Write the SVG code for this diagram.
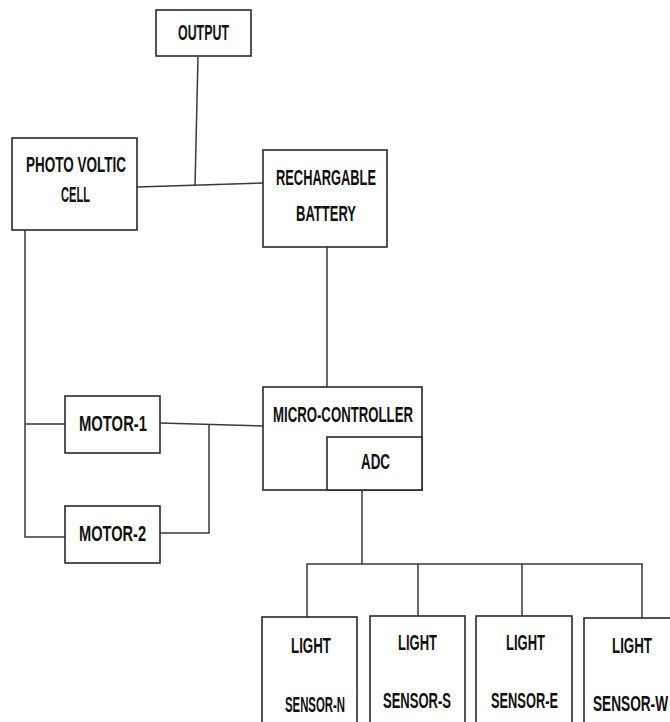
<svg xmlns="http://www.w3.org/2000/svg" width="670" height="722" viewBox="0 0 670 722">
<style>
.box{fill:#fff;stroke:#2a2a2a;stroke-width:1.6}
.ln{fill:none;stroke:#3a3a3a;stroke-width:1.5}
text{font-family:"Liberation Sans",Arial,sans-serif;font-weight:bold;font-size:22px;fill:#111}
</style>
<rect width="670" height="722" fill="#fff"/>
<g id="connectors">
<polyline class="ln" points="198,57 195,186"/>
<polyline class="ln" points="137,187 263,183"/>
<polyline class="ln" points="327,247 327,387"/>
<polyline class="ln" points="25,230 25,537 65,537"/>
<polyline class="ln" points="25,424 65,424"/>
<polyline class="ln" points="160,423 263,426"/>
<polyline class="ln" points="209,424 209,533 160,533"/>
<polyline class="ln" points="362,490 362,564"/>
<polyline class="ln" points="307,617 307,564 642,564 642,618"/>
<polyline class="ln" points="418,564 418,616"/>
<polyline class="ln" points="522,564 522,616"/>
</g>
<g id="output"><rect class="box" x="156" y="10" width="95" height="46"/><text x="178" y="40" textLength="51" lengthAdjust="spacingAndGlyphs">OUTPUT</text></g>
<g id="pv"><rect class="box" x="12" y="138" width="125" height="92"/><text x="26" y="172" textLength="100" lengthAdjust="spacingAndGlyphs">PHOTO VOLTIC</text><text x="61" y="202" textLength="29" lengthAdjust="spacingAndGlyphs">CELL</text></g>
<g id="battery"><rect class="box" x="263" y="150" width="124" height="97"/><text x="276" y="185" textLength="100" lengthAdjust="spacingAndGlyphs">RECHARGABLE</text><text x="296" y="221" textLength="60" lengthAdjust="spacingAndGlyphs">BATTERY</text></g>
<g id="motor1"><rect class="box" x="65" y="396" width="95" height="57"/><text x="79" y="431" textLength="68" lengthAdjust="spacingAndGlyphs">MOTOR-1</text></g>
<g id="motor2"><rect class="box" x="65" y="506" width="95" height="57"/><text x="79" y="541" textLength="67" lengthAdjust="spacingAndGlyphs">MOTOR-2</text></g>
<g id="mcu"><rect class="box" x="263" y="387" width="159" height="103"/><text x="273" y="422" textLength="140" lengthAdjust="spacingAndGlyphs">MICRO-CONTROLLER</text></g>
<g id="adc"><rect class="box" x="327" y="437" width="95" height="53"/><text x="361" y="469" textLength="29" lengthAdjust="spacingAndGlyphs">ADC</text></g>
<g id="sensorN"><rect class="box" x="262" y="617" width="95" height="120"/><text x="291" y="653" textLength="40" lengthAdjust="spacingAndGlyphs">LIGHT</text><text x="285" y="712" textLength="60" lengthAdjust="spacingAndGlyphs">SENSOR-N</text></g>
<g id="sensorS"><rect class="box" x="370" y="616" width="95" height="120"/><text x="398" y="650" textLength="39" lengthAdjust="spacingAndGlyphs">LIGHT</text><text x="383" y="708" textLength="68" lengthAdjust="spacingAndGlyphs">SENSOR-S</text></g>
<g id="sensorE"><rect class="box" x="476" y="616" width="96" height="120"/><text x="506" y="650" textLength="39" lengthAdjust="spacingAndGlyphs">LIGHT</text><text x="491" y="708" textLength="67" lengthAdjust="spacingAndGlyphs">SENSOR-E</text></g>
<g id="sensorW"><rect class="box" x="584" y="618" width="95" height="120"/><text x="612" y="653" textLength="40" lengthAdjust="spacingAndGlyphs">LIGHT</text><text x="593" y="711" textLength="75" lengthAdjust="spacingAndGlyphs">SENSOR-W</text></g>
</svg>
